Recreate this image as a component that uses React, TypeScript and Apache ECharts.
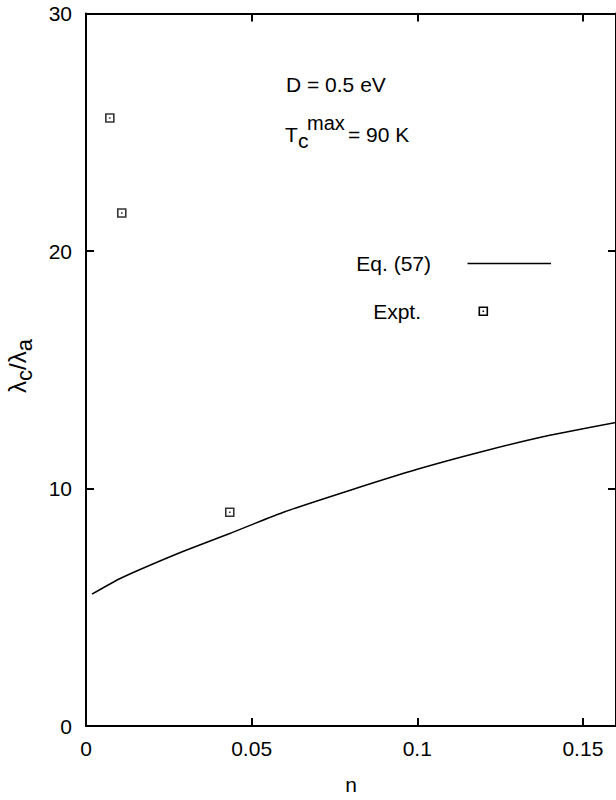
import React, { useEffect, useRef } from "react";
import * as echarts from "echarts";

// Eq. (57) curve
const eqN = [0.0018, 0.01, 0.02, 0.03, 0.0422, 0.06, 0.08, 0.1, 0.12, 0.14, 0.16];
const eqRatio = [5.55, 6.19, 6.81, 7.39, 8.04, 9.02, 9.94, 10.81, 11.57, 12.24, 12.78];

// Experimental points
const exptN = [0.0072, 0.0108, 0.0434];
const exptRatio = [25.6, 21.6, 9.0];

const xTicks = [0, 0.05, 0.1, 0.15];
const yTicks = [0, 10, 20, 30];

const FONT = "'Liberation Sans', Arial, Helvetica, sans-serif";
const FS = 21;

export default function App() {
  const ref = useRef<HTMLDivElement>(null);
  useEffect(() => {
    if (!ref.current) return;
    const chart = echarts.init(ref.current, undefined, { renderer: "svg" });
    const lineData = eqN.map((n, i) => [n, eqRatio[i]]);
    const exptData = exptN.map((n, i) => [n, exptRatio[i]]);
    const axisLine = { show: true, onZero: false, lineStyle: { color: "#000", width: 2 } };
    const axisTick = { show: true, inside: true, length: 8, lineStyle: { color: "#000", width: 2 } };
    const fmt = (v: number) => String(+v.toFixed(2));
    const txt = (text: string, x: number, y: number, align = "left", size = FS) => ({
      type: "text",
      x,
      y,
      style: { text, fontSize: size, fontFamily: FONT, fill: "#000", align, verticalAlign: "middle" },
    });
    chart.setOption({
      animation: false,
      backgroundColor: "#fff",
      grid: { left: 86, top: 13.5, right: -1, bottom: 72, containLabel: false },
      xAxis: [
        {
          type: "value",
          position: "bottom",
          min: xTicks[0],
          max: 0.16,
          interval: 0.05,
          axisLine,
          axisTick,
          splitLine: { show: false },
          axisLabel: { fontSize: FS, fontFamily: FONT, color: "#000", margin: 12, showMaxLabel: false, formatter: fmt },
          name: "n",
          nameLocation: "middle",
          nameGap: 48,
          nameTextStyle: { fontSize: FS, fontFamily: FONT, color: "#000" },
        },
        {
          type: "value",
          position: "top",
          min: xTicks[0],
          max: 0.16,
          interval: 0.05,
          axisLine,
          axisTick,
          splitLine: { show: false },
          axisLabel: { show: false },
        },
      ],
      yAxis: [
        {
          type: "value",
          position: "left",
          min: yTicks[0],
          max: yTicks[yTicks.length - 1],
          interval: 10,
          axisLine,
          axisTick,
          splitLine: { show: false },
          axisLabel: { fontSize: FS, fontFamily: FONT, color: "#000", margin: 14, formatter: fmt },
        },
        {
          type: "value",
          position: "right",
          min: yTicks[0],
          max: yTicks[yTicks.length - 1],
          interval: 10,
          axisLine,
          axisTick,
          splitLine: { show: false },
          axisLabel: { show: false },
        },
      ],
      series: [
        {
          name: "Eq. (57)",
          type: "line",
          data: lineData,
          smooth: 0.2,
          showSymbol: false,
          symbol: "none",
          lineStyle: { color: "#000", width: 1.5 },
          clip: true,
        },
        {
          name: "Expt.",
          type: "scatter",
          data: exptData,
          symbol: "rect",
          symbolSize: 8,
          itemStyle: { color: "#fff", borderColor: "#000", borderWidth: 1.6 },
        },
        {
          name: "Expt. dot",
          type: "scatter",
          data: exptData,
          symbol: "rect",
          symbolSize: 1.6,
          itemStyle: { color: "#000" },
          z: 3,
        },
      ],
      graphic: [
        txt("D = 0.5 eV", 286, 84.5),
        txt("T", 285, 134.4),
        txt("c", 298, 140),
        txt("max", 307, 122.7, "left", 20),
        txt("= 90 K", 348, 134.4),
        txt("Eq. (57)", 431, 263, "right"),
        {
          type: "line",
          shape: { x1: 467.5, y1: 263.5, x2: 551, y2: 263.5 },
          style: { stroke: "#000", lineWidth: 1.5 },
        },
        txt("Expt.", 421, 311.5, "right"),
        {
          type: "rect",
          shape: { x: 479.3, y: 307.3, width: 8, height: 8 },
          style: { fill: "#fff", stroke: "#000", lineWidth: 1.6 },
        },
        {
          type: "rect",
          shape: { x: 482.5, y: 310.5, width: 1.6, height: 1.6 },
          style: { fill: "#000" },
        },
        {
          type: "text",
          x: 17,
          y: 366,
          rotation: Math.PI / 2,
          style: {
            text: "{m|λ}{s|c}{m|/λ}{s|a}",
            align: "center",
            verticalAlign: "middle",
            fontFamily: FONT,
            fontSize: 24,
            fill: "#000",
            rich: {
              m: { fontSize: 24, fontFamily: FONT, lineHeight: 36, fill: "#000" },
              s: { fontSize: 22, fontFamily: FONT, lineHeight: 22, verticalAlign: "bottom", fill: "#000" },
            },
          },
        },
      ],
    });
    return () => chart.dispose();
  }, []);
  return (
    <div
      ref={ref}
      style={{ position: "fixed", left: 0, top: 0, width: 616, height: 800, background: "#fff" }}
    />
  );
}
